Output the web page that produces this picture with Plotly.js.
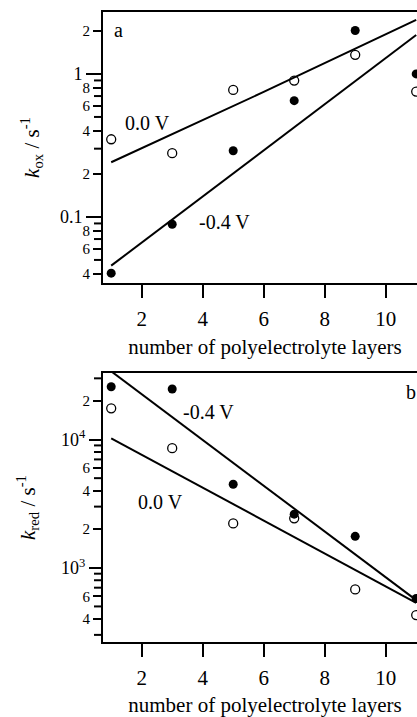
<!DOCTYPE html>
<html>
<head>
<meta charset="utf-8">
<script src="https://cdn.plot.ly/plotly-3.0.1.min.js"></script>
<style>
  html, body { margin: 0; padding: 0; background: #fff; overflow: hidden; }
  #chart { width: 440px; height: 717px; }
</style>
</head>
<body>
<div id="chart"></div>
<script>
// Number of polyelectrolyte layers
const layers = [1, 3, 5, 7, 9, 11];

// (a) oxidation rate constants, s^-1
const kox_0V   = [0.349, 0.279, 0.773, 0.898, 1.36, 0.752];
const kox_m04V = [0.0404, 0.0889, 0.29, 0.65, 2.01, 1.0];

// (b) reduction rate constants, s^-1
const kred_0V   = [17500, 8560, 2220, 2430, 679, 428];
const kred_m04V = [25800, 24800, 4480, 2620, 1760, 576];

// Exponential fits drawn through each series
const fitX = [1, 6, 11];
const fitOx_0V   = [0.241, 0.748, 2.39];
const fitOx_m04V = [0.0456, 0.294, 1.87];
const fitRed_0V   = [10230, 2335, 534];
const fitRed_m04V = [34050, 4352, 560];

// Axis tick sets: decades (long ticks), labelled intermediate ticks, unlabelled ticks
const xTicks = [2, 4, 6, 8, 10];
const oxDecades = [1, 0.1];
const oxDecadeText = ['1', '0.1'];
const oxLabelled = [2, 0.8, 0.6, 0.4, 0.2, 0.08, 0.06, 0.04];
const oxLabelledText = ['2', '8', '6', '4', '2', '8', '6', '4'];
const oxPlain = [0.9, 0.7, 0.5, 0.3, 0.09, 0.07, 0.05];
const redDecades = [1000, 10000];
const redDecadeText = ['10<sup>3</sup>', '10<sup>4</sup>'];
const redLabelled = [20000, 6000, 4000, 2000, 600, 400];
const redLabelledText = ['2', '6', '4', '2', '6', '4'];
const redPlain = [30000, 9000, 8000, 7000, 5000, 3000, 900, 800, 700, 500, 300];

const FONT = 'Liberation Serif, Times New Roman, serif';
const W = 440, H = 717, ML = 103, MR = 13, MB = 20;
const SHORT = 9;
const xRange = [0.731, 11.354];
const oxRange = [Math.log10(0.0345), Math.log10(2.71)];
const redRange = [Math.log10(264), Math.log10(33000)];
const oxDomain = [0.5940, 0.9828];
const redDomain = [0.0789, 0.4648];

function pts(x, y, xa, ya, open) {
  return {
    x: x, y: y, xaxis: xa, yaxis: ya, type: 'scatter', mode: 'markers',
    marker: open
      ? { symbol: 'circle-open', size: 9, color: '#000', line: { width: 1.3, color: '#000' } }
      : { symbol: 'circle', size: 9, color: '#000', line: { width: 0 } },
    hoverinfo: 'skip'
  };
}
function fit(x, y, xa, ya) {
  return {
    x: x, y: y, xaxis: xa, yaxis: ya, type: 'scatter', mode: 'lines',
    line: { color: '#000', width: 2 }, hoverinfo: 'skip'
  };
}
// empty trace so each overlaid tick axis gets drawn
function holder(xa, ya) {
  return { x: [], y: [], xaxis: xa, yaxis: ya, type: 'scatter', mode: 'markers', hoverinfo: 'skip' };
}

// unlabelled log ticks as short dashes left of the y axis line
function plainTickShapes(vals, range, domain) {
  return vals.map(v => {
    const f = domain[0] + (Math.log10(v) - range[0]) / (range[1] - range[0]) * (domain[1] - domain[0]);
    return {
      type: 'line', xref: 'paper', yref: 'paper', xsizemode: 'pixel', xanchor: 0,
      x0: -SHORT, x1: 0, y0: f, y1: f, layer: 'above',
      line: { color: '#000', width: 2 }
    };
  });
}

const data = [
  fit(fitX, fitOx_0V, 'x', 'y'),
  fit(fitX, fitOx_m04V, 'x', 'y'),
  pts(layers, kox_0V, 'x', 'y', true),
  pts(layers, kox_m04V, 'x', 'y', false),
  fit(fitX, fitRed_0V, 'x2', 'y3'),
  fit(fitX, fitRed_m04V, 'x2', 'y3'),
  pts(layers, kred_0V, 'x2', 'y3', true),
  pts(layers, kred_m04V, 'x2', 'y3', false),
  holder('x', 'y2'),
  holder('x2', 'y4')
];

const titleFont = { family: FONT, size: 21, color: '#000' };

function xAxis(anchor) {
  return {
    anchor: anchor, domain: [0, 1], range: xRange,
    tickmode: 'array', tickvals: xTicks, ticks: 'outside', ticklen: 13, tickwidth: 2,
    tickcolor: '#000', showline: true, linewidth: 2, linecolor: '#000', mirror: true,
    showgrid: false, zeroline: false, tickfont: titleFont, ticklabelstandoff: 3,
    title: { text: 'number of polyelectrolyte layers', font: titleFont, standoff: 9 }
  };
}
function yMain(domain, anchor, range, vals, text, title, len, standoff) {
  return {
    domain: domain, anchor: anchor, type: 'log', range: range,
    tickmode: 'array', tickvals: vals, ticktext: text, ticks: 'outside', ticklen: len, tickwidth: 2,
    tickcolor: '#000', showline: true, linewidth: 2, linecolor: '#000', mirror: true,
    showgrid: false, zeroline: false, tickfont: { family: FONT, size: 18, color: '#000' },
    title: { text: title, font: titleFont, standoff: standoff }
  };
}
function yOverlay(over, anchor, range, vals, text) {
  return {
    overlaying: over, anchor: anchor, side: 'left', type: 'log', range: range,
    tickmode: 'array', tickvals: vals, ticktext: text,
    ticks: 'outside', ticklen: SHORT, tickwidth: 2, tickcolor: '#000',
    showline: false, showgrid: false, zeroline: false,
    tickfont: { family: FONT, size: 15, color: '#000' }
  };
}

const annFont = { family: FONT, size: 20, color: '#000' };
function label(text, x, ly, xr, yr) {
  return { text: text, x: x, y: ly, xref: xr, yref: yr, showarrow: false,
           xanchor: 'center', yanchor: 'middle', font: annFont };
}

const layout = {
  width: W, height: H,
  margin: { l: ML, r: MR, t: 0, b: MB },
  paper_bgcolor: '#fff', plot_bgcolor: '#fff',
  showlegend: false,
  xaxis: xAxis('y'),
  xaxis2: xAxis('y3'),
  yaxis: yMain(oxDomain, 'x', oxRange, oxDecades, oxDecadeText,
    '<i>k</i><sub>ox</sub> / s<sup>-1</sup>', 15, 15),
  yaxis2: yOverlay('y', 'x', oxRange, oxLabelled, oxLabelledText),
  yaxis3: yMain(redDomain, 'x2', redRange, redDecades, redDecadeText,
    '<i>k</i><sub>red</sub> / s<sup>-1</sup>', 12, 20),
  yaxis4: yOverlay('y3', 'x2', redRange, redLabelled, redLabelledText),
  shapes: plainTickShapes(oxPlain, oxRange, oxDomain)
    .concat(plainTickShapes(redPlain, redRange, redDomain)),
  annotations: [
    label('a', 1.223, 0.3077, 'x', 'y'),
    label('0.0 V', 2.206, -0.3427, 'x', 'y'),
    label('-0.4 V', 4.715, -1.035, 'x', 'y'),
    label('b', 10.82, 4.371, 'x2', 'y3'),
    label('-0.4 V', 4.174, 4.215, 'x2', 'y3'),
    label('0.0 V', 2.63, 3.514, 'x2', 'y3')
  ]
};

Plotly.newPlot('chart', data, layout, { staticPlot: true, displayModeBar: false });
</script>
</body>
</html>
